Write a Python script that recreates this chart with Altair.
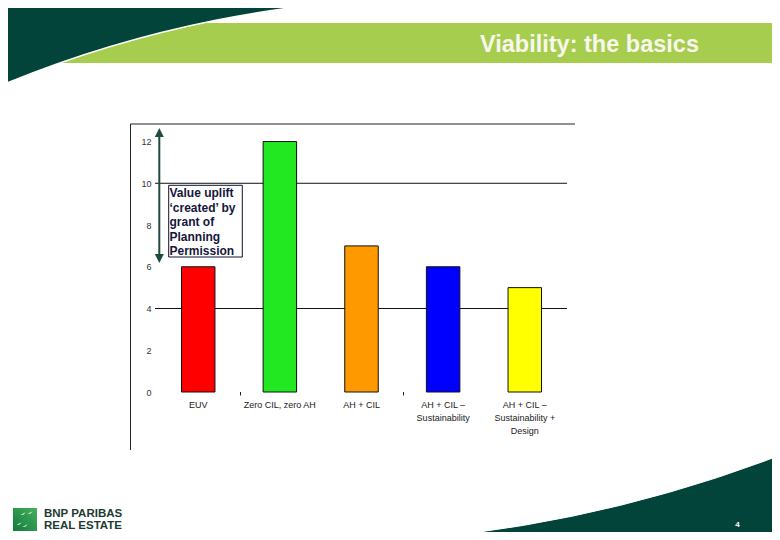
import altair as alt
import pandas as pd

# ---- chart data ----
categories = ["EUV", "Zero CIL, zero AH", "AH + CIL",
              "AH + CIL –\nSustainability", "AH + CIL –\nSustainability +\nDesign"]
values = [6, 12, 7, 6, 5]
bar_colors = ["#ff0000", "#22e822", "#ff9900", "#0000ff", "#ffff00"]
y_ticks = [0, 2, 4, 6, 8, 10, 12]
grid_values = [4, 10]
title_text = "Viability: the basics"
annotation_text = "Value uplift\n‘created’ by\ngrant of\nPlanning\nPermission"
logo_text = "BNP PARIBAS\nREAL ESTATE"
page_number = "4"

FONT = "Liberation Sans"
DARK = "#02443a"
BAND = "#a7cd4f"
ARROW = "#1d4b40"

bars_df = pd.DataFrame({"cat": categories, "value": values, "color": bar_colors})
grid_df = pd.DataFrame({"value": grid_values})
one = pd.DataFrame({"k": [0]})

y_scale = alt.Scale(domain=[0, 12.84], nice=False, zero=True)
y_axis = alt.Axis(title=None, values=y_ticks, domain=False, ticks=False, grid=False,
                  labelPadding=6, labelFontSize=9, labelColor="#333333", labelFont=FONT)

x_enc = alt.X(
    "cat:N", sort=categories,
    scale=alt.Scale(paddingInner=0.59, paddingOuter=0.3),
    axis=alt.Axis(title=None, labelExpr="split(datum.label, '\\n')", labelAngle=0,
                  domain=False, ticks=False, labelPadding=8, labelFontSize=9,
                  labelColor="#222222", labelFont=FONT, labelLineHeight=13,
                  labelLimit=200),
)

base1 = alt.Chart(one)

# ---- slide decorations ----
band = base1.mark_rect(color=BAND).encode(
    x=alt.value(-160), x2=alt.value(625), y=alt.value(-101), y2=alt.value(-61))
top_arc = base1.mark_arc(innerRadius=1150, outerRadius=1262, theta=5.83, theta2=6.34,
                         color=DARK, stroke="white", strokeWidth=1.5).encode(
    x=alt.value(284), y=alt.value(1024))
bottom_arc = base1.mark_arc(innerRadius=1337, outerRadius=1445, theta=2.6, theta2=3.2,
                            color=DARK, stroke="white", strokeWidth=1).encode(
    x=alt.value(144), y=alt.value(-917))
title = base1.mark_text(text=title_text, font=FONT, fontSize=23.5, fontWeight="bold",
                        color="#f7f7ee", align="left", baseline="alphabetic").encode(
    x=alt.value(323), y=alt.value(-72.5))
page_no = base1.mark_text(text=page_number, font=FONT, fontSize=8, fontWeight="bold",
                          color="white", align="center", baseline="middle").encode(
    x=alt.value(580.5), y=alt.value(400.5))

logo_square = base1.mark_rect(
    color=alt.LinearGradient(
        gradient="linear",
        stops=[alt.GradientStop(color="#46b060", offset=0),
               alt.GradientStop(color="#127a3c", offset=1)],
        x1=1, x2=0, y1=0, y2=1)).encode(
    x=alt.value(-144), x2=alt.value(-120), y=alt.value(384), y2=alt.value(407))
logo_birds = [
    base1.mark_point(shape="M-1,0.4L1,-0.6L0.2,0.2Z", filled=True, size=30, color="white",
                     opacity=1).encode(x=alt.value(px), y=alt.value(py))
    for px, py in [(-127, 389), (-134, 390), (-138, 400), (-132, 402)]
]
logo = base1.mark_text(text=logo_text, lineBreak="\n", lineHeight=12.5, font=FONT,
                       fontSize=11.5, fontWeight="bold", color="#1d3b33",
                       align="left", baseline="top").encode(
    x=alt.value(-113), y=alt.value(383.5))

# ---- chart frame ----
frame_left = base1.mark_rule(color="#222222", strokeWidth=1).encode(
    x=alt.value(-26.5), y=alt.value(0), y2=alt.value(326))
frame_top = base1.mark_rule(color="#222222", strokeWidth=1).encode(
    x=alt.value(-26.5), x2=alt.value(418), y=alt.value(0))
sep_ticks = [
    base1.mark_rule(color="#222222", strokeWidth=1).encode(
        x=alt.value(px), y=alt.value(268), y2=alt.value(271.5))
    for px in [83.5, 246.5]
]

grid = alt.Chart(grid_df).mark_rule(color="#111111", strokeWidth=1).encode(
    y=alt.Y("value:Q", scale=y_scale, axis=y_axis), x=alt.value(-2), x2=alt.value(410))

bars = alt.Chart(bars_df).mark_bar(stroke="#111111", strokeWidth=1).encode(
    x=x_enc, y=alt.Y("value:Q", scale=y_scale, axis=y_axis),
    color=alt.Color("color:N", scale=None))

# ---- annotation ----
shaft = base1.mark_rule(color=ARROW, strokeWidth=2).encode(
    x=alt.value(2.3), y=alt.value(10), y2=alt.value(134))
head_up = base1.mark_point(shape="M0,-1L1,1L-1,1Z", filled=True, size=81, color=ARROW,
                           opacity=1).encode(x=alt.value(2.3), y=alt.value(8.5))
head_down = base1.mark_point(shape="M-1,-1L1,-1L0,1Z", filled=True, size=81, color=ARROW,
                             opacity=1).encode(x=alt.value(2.3), y=alt.value(134.5))
box = base1.mark_rect(fill="white", stroke="#111133", strokeWidth=1).encode(
    x=alt.value(11.7), x2=alt.value(85.3), y=alt.value(61.3), y2=alt.value(133))
box_text = base1.mark_text(text=annotation_text, lineBreak="\n", lineHeight=14.5,
                           align="left", baseline="top", font=FONT, fontSize=12,
                           fontWeight="bold", color="#16163c").encode(
    x=alt.value(12.5), y=alt.value(64))

chart = alt.layer(
    band, top_arc, bottom_arc, title, page_no, logo_square, *logo_birds, logo,
    frame_left, frame_top, *sep_ticks, grid, bars,
    shaft, head_up, head_down, box, box_text,
).properties(
    width=409, height=268,
    autosize=alt.AutoSizeParams(type="none"),
    padding={"left": 149, "top": 116, "right": 206, "bottom": 140},
    background="white",
).configure_view(strokeWidth=0)

chart.save("out.html", embed_options={"renderer": "svg", "actions": False})
